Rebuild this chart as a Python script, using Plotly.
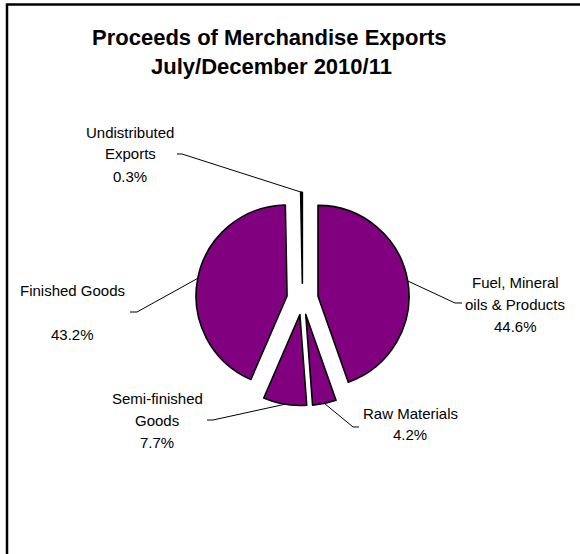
import math
import plotly.graph_objects as go

# Export categories and their shares (%)
categories = ["Fuel, Mineral oils & Products", "Raw Materials",
              "Semi-finished Goods", "Finished Goods", "Undistributed Exports"]
shares = [44.6, 4.2, 7.7, 43.2, 0.3]
# How each category label is broken across lines
name_lines = [
    ["Fuel, Mineral", "oils & Products"],
    ["Raw Materials"],
    ["Semi-finished", "Goods"],
    ["Finished Goods", ""],
    ["Undistributed", "Exports"],
]

W, H = 580, 554
CX, CY, R = 302.5, 299.0, 91.0   # pie centre / radius in pixels
PULL = 0.173
FONT = "Liberation Sans, Arial, sans-serif"
LINE_H = 22

# label placement: text centre x, first-line y, elbow point, line end point
label_pos = [
    (515, 282, (455, 303), (462, 303)),
    (410, 413, (353, 427), (359, 427)),
    (157, 398, (213, 420), (207, 420)),
    (72.5, 290, (137, 312), (130, 312)),
    (130, 132, (182, 154), (177, 154)),
]


def px(x):
    return x / W


def py(y):
    return 1 - y / H


half = R * (1 + PULL)
fig = go.Figure(go.Pie(
    labels=categories,
    values=shares,
    sort=False,
    direction="clockwise",
    rotation=0,
    pull=[PULL] * len(shares),
    marker=dict(colors=["#800080"] * len(shares),
                line=dict(color="black", width=1.6)),
    textinfo="none",
    hoverinfo="label+percent",
    showlegend=False,
    domain=dict(x=[px(CX - half), px(CX + half)],
                y=[(H - CY - half) / H, (H - CY + half) / H]),
))

annotations = []
shapes = []

# title
for text, x, y in [("Proceeds of Merchandise Exports", 269, 37),
                   ("July/December 2010/11", 271, 67)]:
    annotations.append(dict(text="<b>%s</b>" % text, x=px(x), y=py(y),
                            xref="paper", yref="paper", showarrow=False,
                            xanchor="center", yanchor="middle",
                            font=dict(family=FONT, size=22, color="black")))

# outside labels with leader lines
total = sum(shares)
cum = 0.0
for v, names, (tx, ty, elbow, end) in zip(shares, name_lines, label_pos):
    mid = math.radians((cum + v / 2) / total * 360)
    cum += v
    ax = CX + R * (1 + PULL) * math.sin(mid)
    ay = CY - R * (1 + PULL) * math.cos(mid)
    lines = names + ["%.1f%%" % v]
    for i, t in enumerate(lines):
        if not t:
            continue
        annotations.append(dict(text=t, x=px(tx), y=py(ty + i * LINE_H),
                                xref="paper", yref="paper", showarrow=False,
                                xanchor="center", yanchor="middle",
                                font=dict(family=FONT, size=15, color="black")))
    path = "M %f %f L %f %f L %f %f" % (px(ax), py(ay), px(elbow[0]), py(elbow[1]),
                                        px(end[0]), py(end[1]))
    shapes.append(dict(type="path", path=path, xref="paper", yref="paper",
                       line=dict(color="black", width=1)))

# chart frame
shapes.append(dict(type="rect", xref="paper", yref="paper",
                   x0=px(7), x1=1.1, y0=-0.1, y1=py(4.5),
                   line=dict(color="black", width=2.5)))

fig.update_layout(
    width=W, height=H,
    margin=dict(l=0, r=0, t=0, b=0),
    paper_bgcolor="white", plot_bgcolor="white",
    annotations=annotations, shapes=shapes,
)

fig.write_html("out.html")
